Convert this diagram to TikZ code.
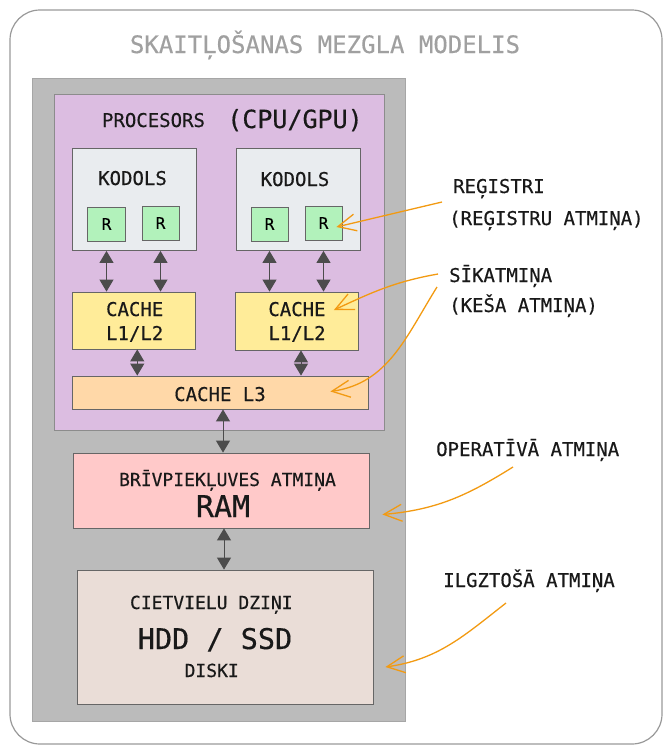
\documentclass[tikz,border=0pt]{standalone}
\usepackage{fontspec}
\setmainfont{DejaVu Sans Mono}[FakeBold=0.4]
\usetikzlibrary{arrows.meta}

\definecolor{nodegray}{HTML}{BBBBBB}
\definecolor{cpupurple}{HTML}{DCBDE1}
\definecolor{coregray}{HTML}{E9ECEF}
\definecolor{reggreen}{HTML}{B2F2BB}
\definecolor{cacheyellow}{HTML}{FFEC99}
\definecolor{cacheorange}{HTML}{FFD8A8}
\definecolor{rampink}{HTML}{FFC9C9}
\definecolor{diskbeige}{HTML}{EADDD7}
\definecolor{noteorange}{HTML}{F29A12}
\definecolor{titlegray}{HTML}{A0A0A0}

\begin{document}
\begin{tikzpicture}[x=1pt, y=-1pt,
  box/.style={draw=black!60, line width=0.8pt, inner sep=0pt},
  lbl/.style={inner sep=0pt, anchor=base, text=black!90},
  side/.style={inner sep=0pt, anchor=base west, text=black!90, font=\fontsize{19}{23}\selectfont},
  link/.style={{Triangle[length=12pt,width=14pt]}-{Triangle[length=12pt,width=14pt]}, draw=black!70, line width=1pt},
  note/.style={draw=noteorange, line width=1.3pt, -{Straight Barb[length=18pt,width=17pt]}}]
  \useasboundingbox (0,0) rectangle (671,753);
  \draw[draw=black!40, line width=1.2pt, rounded corners=30pt] (10,10) rectangle (662,744);
  \node[lbl, text=titlegray, font=\fontsize{24}{28}\selectfont] (title) at (325,53) {SKAITĻOŠANAS MEZGLA MODELIS};

  % containers
  \node[box, fill=nodegray, draw=black!35, minimum width=373pt, minimum height=643pt] (comp) at (218.5,399.5) {};
  \node[box, fill=cpupurple, draw=black!45, minimum width=330pt, minimum height=336pt] (cpu) at (219,262) {};
  \node[lbl, font=\fontsize{19}{23}\selectfont] (cpulbl) at (153.5,127) {PROCESORS};
  \node[lbl, font=\fontsize{25}{30}\selectfont] (cpukind) at (295,128) {(CPU/GPU)};

  % cores and registers
  \node[box, fill=coregray, minimum width=124pt, minimum height=102pt] (core1) at (134.5,199.5) {};
  \node[box, fill=coregray, minimum width=124pt, minimum height=102pt] (core2) at (298.5,199.5) {};
  \node[lbl, font=\fontsize{19}{23}\selectfont] (core1lbl) at (132.5,185) {KODOLS};
  \node[lbl, font=\fontsize{19}{23}\selectfont] (core2lbl) at (295,186) {KODOLS};
  \node[box, fill=reggreen, minimum width=38pt, minimum height=34pt, font=\fontsize{16}{19}\selectfont] (r11) at (106.5,224) {R};
  \node[box, fill=reggreen, minimum width=37pt, minimum height=34pt, font=\fontsize{16}{19}\selectfont] (r12) at (160.5,223) {R};
  \node[box, fill=reggreen, minimum width=37pt, minimum height=34pt, font=\fontsize{16}{19}\selectfont] (r21) at (269.5,224) {R};
  \node[box, fill=reggreen, minimum width=37pt, minimum height=34pt, font=\fontsize{16}{19}\selectfont] (r22) at (323.5,223) {R};

  % caches
  \node[box, fill=cacheyellow, minimum width=123pt, minimum height=57pt] (l12a) at (134.25,320.5) {};
  \node[box, fill=cacheyellow, minimum width=123pt, minimum height=58pt] (l12b) at (297,321) {};
  \node[lbl, font=\fontsize{19}{24}\selectfont] (l12alblA) at (134.7,316) {CACHE};
  \node[lbl, font=\fontsize{19}{24}\selectfont] (l12alblB) at (134.7,340) {L1/L2};
  \node[lbl, font=\fontsize{19}{24}\selectfont] (l12blblA) at (297,316) {CACHE};
  \node[lbl, font=\fontsize{19}{24}\selectfont] (l12blblB) at (297,340) {L1/L2};
  \node[box, fill=cacheorange, minimum width=296pt, minimum height=33pt] (l3) at (220,392.5) {};
  \node[lbl, font=\fontsize{19}{23}\selectfont] (l3lbl) at (220,401) {CACHE L3};

  % memory
  \node[box, fill=rampink, minimum width=296pt, minimum height=75pt] (ram) at (221,490.5) {};
  \node[lbl, font=\fontsize{18}{22}\selectfont] (ramlbl) at (227.5,486) {BRĪVPIEKĻUVES ATMIŅA};
  \node[lbl, font=\fontsize{30}{36}\selectfont] (ramname) at (223,517) {RAM};
  \node[box, fill=diskbeige, minimum width=296pt, minimum height=134pt] (disk) at (225,637) {};
  \node[lbl, font=\fontsize{18}{22}\selectfont] (disklbl) at (211.3,609) {CIETVIELU DZIŅI};
  \node[lbl, font=\fontsize{28.5}{34}\selectfont] (diskname) at (215,649) {HDD / SSD};
  \node[lbl, font=\fontsize{18}{22}\selectfont] (disksub) at (211.7,677) {DISKI};

  % data paths
  \draw[link] (r11 |- core1.south) -- (r11 |- l12a.north);
  \draw[link] (r12 |- core1.south) -- (r12 |- l12a.north);
  \draw[link] (r21 |- core2.south) -- (r21 |- l12b.north);
  \draw[link] (r22 |- core2.south) -- (r22 |- l12b.north);
  \draw[link] ([xshift=3pt]l12a.south) -- ([xshift=3pt]l12a.south |- l3.north);
  \draw[link] ([xshift=4pt]l12b.south) -- ([xshift=4pt]l12b.south |- l3.north);
  \draw[link] ([xshift=3pt]l3.south) -- ([xshift=3pt]l3.south |- ram.north);
  \draw[link] ([xshift=3pt]ram.south) -- ([xshift=3pt]ram.south |- disk.north);

  % side notes
  \node[side] (regnote) at (453,193) {REĢISTRI};
  \node[side] (regnote2) at (449,225) {(REĢISTRU ATMIŅA)};
  \node[side] (cachenote) at (449,282) {SĪKATMIŅA};
  \node[side] (cachenote2) at (449,312) {(KEŠA ATMIŅA)};
  \node[side] (ramnote) at (436,456) {OPERATĪVĀ ATMIŅA};
  \node[side] (disknote) at (443,587) {ILGZTOŠĀ ATMIŅA};
  \coordinate (regtail) at (442,202);
  \coordinate (cachetail) at (438,274);
  \coordinate (l3tail) at (437,287);
  \coordinate (ramtail) at (513,467);
  \coordinate (disktail) at (506,603);
  \draw[note] (regtail) -- ([xshift=-6pt,yshift=-4pt]r22.east);
  \draw[note] (cachetail) to[out=190, in=25] ([xshift=-25pt,yshift=11pt]l12b.east);
  \draw[note] (l3tail) to[out=238, in=8] ([xshift=-38pt,yshift=1pt]l3.east);
  \draw[note] (ramtail) to[out=212, in=5] ([xshift=13pt,yshift=-24pt]ram.east);
  \draw[note] (disktail) to[out=218, in=8] ([xshift=12pt,yshift=-30pt]disk.east);
\end{tikzpicture}
\end{document}
